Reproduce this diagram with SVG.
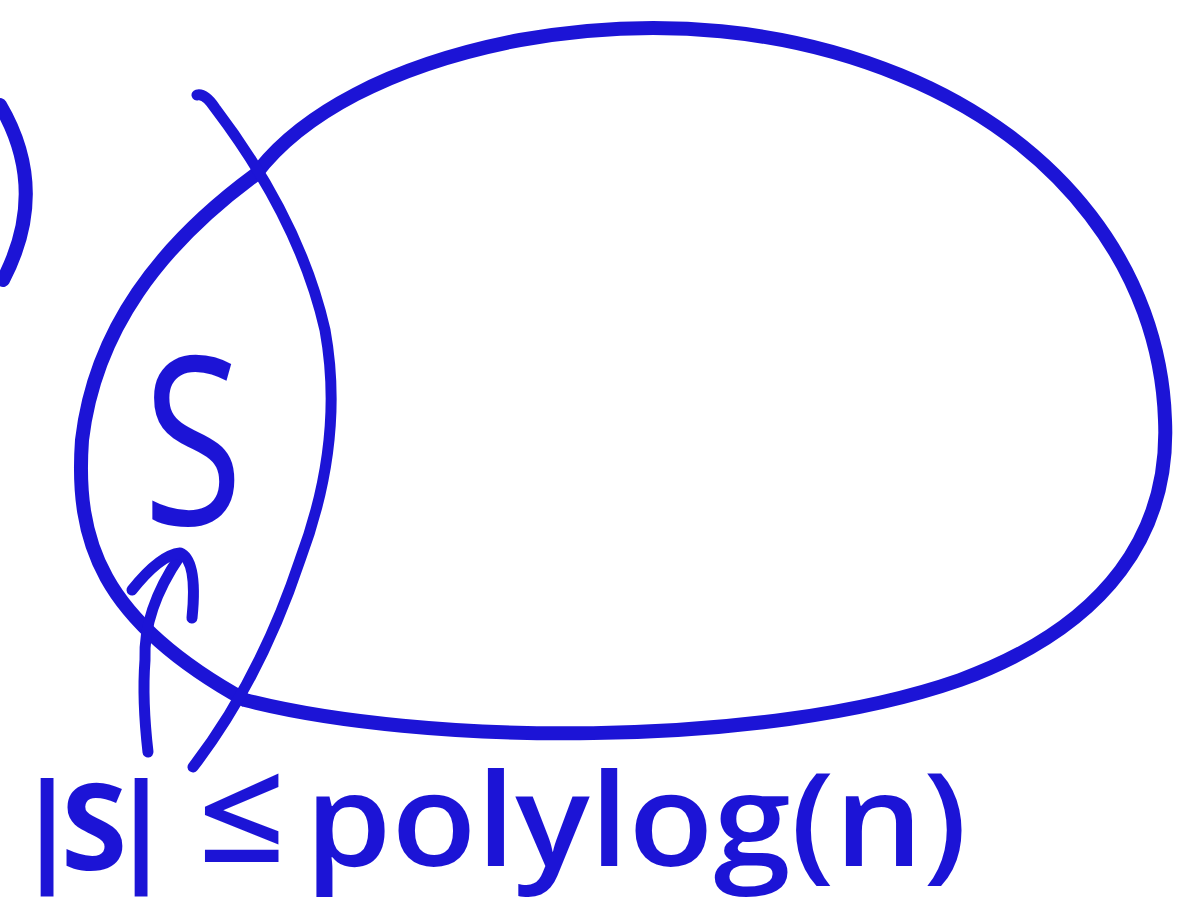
<svg xmlns="http://www.w3.org/2000/svg" width="1180" height="917" viewBox="0 0 1180 917">
<style>
.ink{fill:none;stroke:#1c14d6;stroke-width:14;stroke-linecap:round;stroke-linejoin:round}
.thin{stroke-width:11}
.txt{fill:#1c14d6;font-family:"Open Sans","Liberation Sans",sans-serif;font-weight:600}
.bar{fill:#1c14d6;font-family:"Open Sans","Liberation Sans",sans-serif;font-weight:700}
</style>
<rect width="1180" height="917" fill="#ffffff"/>
<g id="paren"><path class="ink" d="M0,105 Q50,190 3,280" stroke-width="16"/></g>
<g id="ellipse"><path class="ink" d="M245,700 C420,745 760,750 960,680 C1110,625 1170,530 1165,420 C1160,270 1060,140 900,75 C790,30 660,15 520,40 C390,65 300,115 255,175 C160,245 95,330 82,440 C75,540 100,620 245,700 Z"/></g>
<g id="divider"><path class="ink thin" d="M197,95 Q205,93 215,108 Q300,220 325,330 Q345,440 300,560 Q260,680 193,767"/></g>
<g id="connectors">
<path class="ink thin" d="M148,752 Q142,700 145,660 Q143,610 180,556"/>
<path class="ink thin" d="M132,590 Q160,555 180,553 Q198,560 192,618"/>
</g>
<g id="label-S"><text class="txt" x="143" y="525" font-size="235" textLength="100" lengthAdjust="spacingAndGlyphs" style="font-weight:normal">S</text></g>
<g id="label-bound">
<text class="bar" x="14" y="870" font-size="120" textLength="160" lengthAdjust="spacing">|S|</text>
<text class="txt" x="198" y="862" font-size="140" textLength="88" lengthAdjust="spacingAndGlyphs">≤</text>
<text class="txt" x="305" y="866" font-size="128" textLength="662" lengthAdjust="spacingAndGlyphs">polylog(n)</text>
</g>
</svg>
